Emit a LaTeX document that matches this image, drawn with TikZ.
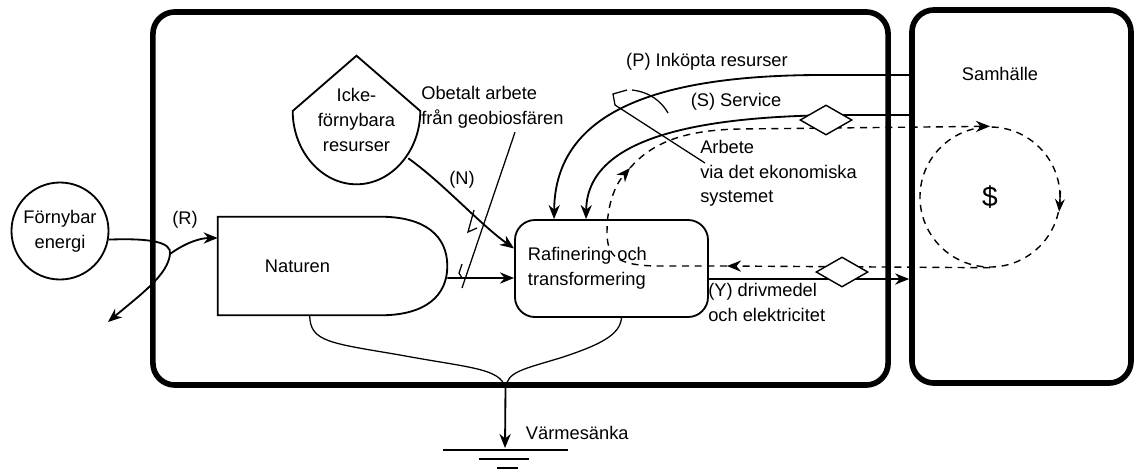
\documentclass[tikz,border=0pt]{standalone}
\usepackage{fontspec}
\setmainfont{Liberation Sans}
\usetikzlibrary{arrows.meta,positioning,calc,shapes.geometric}

\begin{document}
\begin{tikzpicture}[x=0.025cm, y=-0.025cm,
  font=\fontsize{13}{17.5}\selectfont,
  sysbox/.style={draw, line width=4pt, rounded corners=0.55cm},
  flow/.style={line width=1.3pt, -{Stealth[length=10pt,width=8pt]}},
  money/.style={line width=1pt, dash pattern=on 5pt off 4pt},
  leader/.style={line width=0.9pt},
  lbl/.style={align=left, inner sep=0pt},
  valve/.style={diamond, draw, fill=white, line width=1pt, inner sep=0pt,
                minimum width=1.3cm, minimum height=0.75cm},
]
\useasboundingbox (0,0) rectangle (1140,470);

% boxes
\node[sysbox, minimum width=18.375cm, minimum height=9.325cm] (system) at (520.5,198.5) {};
\node[sysbox, minimum width=5.475cm, minimum height=9.325cm] (samhalle) at (1021.5,196.5) {};
\node (samhtext) at (1000,74) {Samhälle};

\node[circle, draw, line width=1.3pt, minimum size=2.425cm, align=center, inner sep=0pt]
  (fornybar) at (60,231) {Förnybar\\energi};

\node[minimum width=5.725cm, minimum height=2.45cm, inner xsep=1.175cm,
      text width=3.375cm, align=left] (naturen) at (332.5,266) {Naturen};
\draw[line width=1.3pt] (naturen.north west) -- ($(naturen.north east)+(-67,0)$)
  .. controls +(45,0) and +(0,-30) .. (naturen.east)
  .. controls +(0,30) and +(45,0) .. ($(naturen.south east)+(-67,0)$)
  -- (naturen.south west) -- cycle;

\node[minimum width=3.175cm, minimum height=3.2cm, align=center, inner sep=0pt]
  (icke) at (356.5,120) {Icke-\\förnybara\\resurser};
\draw[line width=1.3pt] (icke.north) -- ($(icke.east)+(0,-9)$)
  .. controls +(0,40) and +(35,0) .. (icke.south)
  .. controls +(-35,0) and +(0,40) .. ($(icke.west)+(0,-9)$) -- cycle;

\node[draw, line width=1.3pt, rounded corners=0.5cm, minimum width=4.825cm,
      minimum height=2.425cm, inner xsep=0.325cm, text width=4.175cm, align=left]
  (raf) at (611.5,268.5) {Rafinering och\\transformering};

\node[circle, money, draw, minimum size=3.5cm, font=\fontsize{20}{24}\selectfont]
  (money) at (990,197) {\$};

% money loop
\coordinate (mleft) at (727,266);
\coordinate (mup) at (630,168);
\draw[money, -{Stealth[length=10pt,width=8pt]}] (money.south) -- (mleft);
\draw[money, -{Stealth[length=10pt,width=8pt]}] (mleft) -- (660,266)
  .. controls (615,266) and (607,255) .. (607,232)
  .. controls (607,205) and (615,185) .. (mup);
\draw[money, -{Stealth[length=10pt,width=8pt]}] (mup)
  .. controls (650,145) and (680,130) .. (740,129) -- (money.north);
\draw[line width=1pt, -{Stealth[length=9pt,width=7pt]}] (money.5) -- (money.-12);

% energy source
\coordinate (sink) at (108,322);
\coordinate (split) at (170,254);
\draw[flow] (fornybar.-10) .. controls (150,238) and (172,242) .. (split)
  .. controls (168,275) and (140,295) .. (sink);
\draw[flow] (split) .. controls (185,243) and (200,238) .. ($(naturen.west)+(0,-28)$);
\node (rlbl) at (185,220) {(R)};

% flows into refining
\draw[flow] ($(naturen.east)+(0,12)$) -- ($(raf.west)+(0,9.5)$);
\draw[flow] ($(icke.south east)+(-12,-26)$) .. controls +(35,25) and +(-35,-25)
  .. ($(raf.west)+(0,-20)$);
\node (nlbl) at (462,180) {(N)};

\draw[flow] ($(samhalle.west)+(0,-121.5)$) -- (830,75)
  .. controls (660,74) and (555,110) .. ($(raf.north west)+(40,0)$);
\draw[flow] ($(samhalle.west)+(0,-81.5)$) -- (850,115)
  .. controls (690,115) and (587,140) .. ($(raf.north west)+(72,0)$);
\node[valve] (dserv) at (826,120) {};
\node (plbl) at (707,62) {(P) Inköpta resurser};
\node (slbl) at (736,102) {(S) Service};

\draw[flow] ($(raf.east)+(0,10.5)$) -- ($(samhalle.west)+(0,82.5)$);
\node[valve] (dy) at (842,272) {};
\node[lbl, anchor=north west] (ylbl) at (708,283) {(Y) drivmedel\\och elektricitet};

% unpaid work
\node[lbl, anchor=north west] (oblbl) at (421,86) {Obetalt arbete\\från geobiosfären};
\draw[leader] ($(oblbl.south west)+(94,4)$) -- (462,288);
\draw[leader] (474,210) -- (468,232) -- (477,228);
\draw[leader] (462,264) -- (459,273) -- (462,278);

% work via economy
\node[lbl, anchor=north west] (arblbl) at (700,140)
  {Arbete\\via det ekonomiska\\systemet};
\draw[leader] ($(arblbl.north west)+(5,23)$) -- (615,105) -- (613,94) -- (627,90);
\draw[leader] (632,90) .. controls (650,92) and (662,102) .. (668,113);

% heat sink
\coordinate (heat) at ($(system.south)+(-15,0)$);
\coordinate (ground) at (505,448);
\draw[leader] ($(naturen.south west)+(92,0)$) .. controls (310,342) and (330,343)
  .. (400,355) .. controls (470,368) and (500,368) .. (heat);
\draw[leader] ($(raf.south)+(10,0)$) .. controls (620,335) and (600,345)
  .. (560,358) .. controls (520,370) and (508,372) .. (heat);
\draw[flow] (heat) -- (ground);
\draw[line width=1pt] ($(ground)+(-62,2)$) -- ($(ground)+(63,2)$);
\draw[line width=1pt] ($(ground)+(-26,11)$) -- ($(ground)+(24,11)$);
\draw[line width=1pt] ($(ground)+(-8,20)$) -- ($(ground)+(13,20)$);
\node[anchor=west] (vlbl) at (521,433) {Värmesänka};
\end{tikzpicture}
\end{document}
